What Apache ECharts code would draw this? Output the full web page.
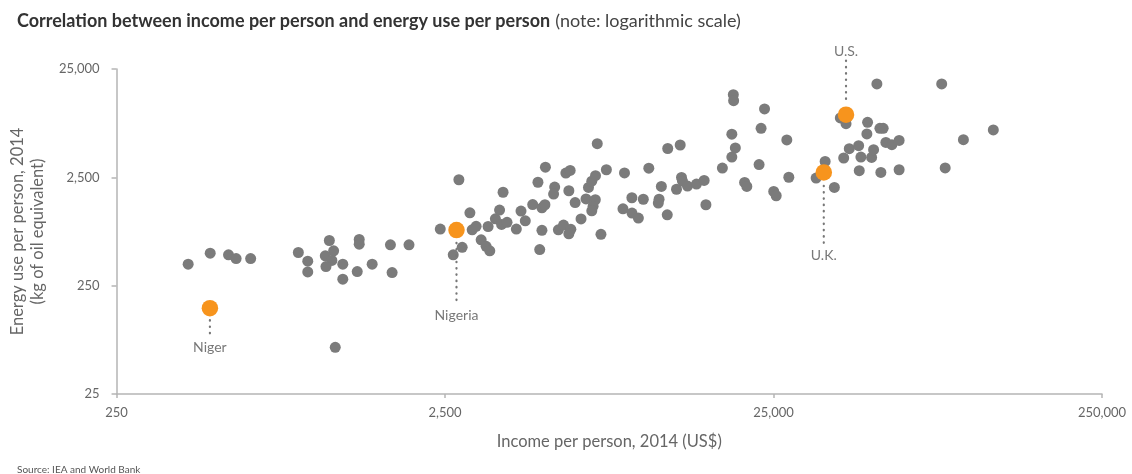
<!DOCTYPE html>
<html><head><meta charset="utf-8">
<script src="https://cdn.jsdelivr.net/npm/echarts@6/dist/echarts.min.js"></script>
<style>html,body{margin:0;padding:0;background:#fff}#c{width:1132px;height:474px}</style>
</head><body><div id="c"></div>
<script>
// Tick values (log scales)
const xTicks = [250, 2500, 25000, 250000];
const yTicks = [25, 250, 2500, 25000];

// All other countries: income per person (US$) and energy use per person (kgoe)
const incomeOther = [413,482,548,578,640,894,955,955,1111,1145,
  1080,1131,1085,1221,1221,1370,1370,1351,1500,1705,
  1942,1725,1158,2418,2648,2819,2755,2976,3024,3109,
  3220,3334,3421,3381,3558,3664,3716,3861,3755,4121,
  4258,4388,4622,4931,5035,4931,4855,4795,5053,5392,
  5351,5533,5737,5831,6010,5955,6039,5955,6223,6486,
  6716,6834,6993,7178,7168,7058,6993,7267,7458,7747,
  8703,8795,9262,9270,9694,10036,10430,11208,11147,11390,
  11870,11910,12998,12665,13117,13209,13680,14567,15372,15565,
  17468,18665,19131,18665,18862,18900,20416,20733,22593,22912,
  23475,25035,25475,27440,27830,33700,35900,38300,39930,41560,
  40890,42520,45400,45600,46130,48340,48100,49720,50420,51600,
  52700,53920,53060,54950,57310,60300,60300,81270,83280,94630,116700];
const energyOther = [395,499,482,445,445,506,421,335,653,524,
  471,427,375,395,287,667,604,337,395,596,
  596,330,67.5,832,482,565,2375,1177,820,883,
  663,577,524,879,1036,1247,918,962,1821,832,
  1220,993,1401,1309,1396,811,539,2252,3099,2034,
  1753,820,906,2740,2895,1880,829,753,1463,1032,
  1579,2017,2301,2587,1552,1352,1228,5110,745,2938,
  1281,2745,1620,1170,1051,1569,3035,1569,1447,2060,
  1128,4613,4972,1941,2495,2301,2078,2168,2340,1396,
  3047,3850,4673,6255,14500,12760,2243,2060,3283,7078,
  10700,1852,1690,5540,2505,2463,3507,2017,8832,7825,
  3770,4595,4900,2877,3850,8043,6283,3818,4498,18210,
  7078,7078,2775,5255,5005,5483,2938,18210,3053,5565,6855];

// Highlighted countries
const hlNames  = ["Niger", "Nigeria", "U.K.", "U.S."];
const hlIncome = [481, 2709, 35560, 41560];
const hlEnergy = [155, 815, 2775, 9475];

// Annotation leader lines (energy values at line ends) and label energy positions
const leadStart = [120, 621, 2090, 29900];
const leadEnd   = [86, 163, 621, 12490];
const labelAt   = [66.5, 134, 471, 36200];

const fmt = v => Math.round(v).toLocaleString('en-US');
const FONT = 'Lato, "Open Sans", sans-serif';
const axisGray = '#b5b5b5';

const series = [
  {
    type: 'scatter', name: 'Other',
    data: incomeOther.map((x, i) => [x, energyOther[i]]),
    symbolSize: 11, itemStyle: { color: '#7b7b7b', opacity: 1 },
    z: 2, silent: true
  },
  {
    type: 'scatter', name: 'Highlight',
    data: hlIncome.map((x, i) => [x, hlEnergy[i]]),
    symbolSize: 16.5, itemStyle: { color: '#F7941D', opacity: 1 },
    z: 4, silent: true
  },
  {
    type: 'scatter', name: 'Labels', clip: false,
    data: hlIncome.map((x, i) => ({ value: [x, labelAt[i]], name: hlNames[i] })),
    symbolSize: 1, itemStyle: { color: 'rgba(0,0,0,0)' },
    label: { show: true, position: 'inside', formatter: p => p.name, color: '#555', fontSize: 14, fontFamily: FONT },
    z: 5, silent: true
  }
];
hlIncome.forEach((x, i) => {
  series.push({
    type: 'line', clip: false, symbol: 'none', silent: true, z: 3,
    data: [[x, leadStart[i]], [x, leadEnd[i]]],
    lineStyle: { color: '#777', width: 2.2, type: [0.5, 5.8], cap: 'round' }
  });
});

const chart = echarts.init(document.getElementById('c'), null, { renderer: 'canvas' });
chart.setOption({
  animation: false,
  backgroundColor: '#fff',
  title: [
    {
      left: 12, top: 7,
      text: '{b|Correlation between income per person and energy use per person} {n|(note: logarithmic scale)}',
      textStyle: { rich: {
        b: { fontFamily: FONT, fontWeight: 'bold', fontSize: 18, color: '#333' },
        n: { fontFamily: FONT, fontWeight: 'normal', fontSize: 18, color: '#444' }
      } }
    },
    {
      left: 12, top: 460,
      text: 'Source: IEA and World Bank',
      textStyle: { fontFamily: FONT, fontWeight: 'normal', fontSize: 10, color: '#555' }
    }
  ],
  grid: { left: 113, right: 30, top: 69, bottom: 80, containLabel: false },
  xAxis: {
    type: 'log', logBase: 10, min: 250, max: 250000,
    name: 'Income per person, 2014 (US$)', nameLocation: 'middle', nameGap: 39,
    nameTextStyle: { fontFamily: FONT, fontSize: 16.5, color: '#666' },
    axisLine: { show: true, lineStyle: { color: axisGray, width: 1.5 } },
    axisTick: { show: true, length: 4, customValues: xTicks, lineStyle: { color: axisGray, width: 1.5 } },
    axisLabel: { customValues: xTicks, formatter: fmt, color: '#666', fontSize: 13, margin: 12, fontFamily: FONT },
    splitLine: { show: false }, minorTick: { show: false }
  },
  yAxis: {
    type: 'log', logBase: 10, min: 25, max: 25000,
    name: 'Energy use per person, 2014\n(kg of oil equivalent)', nameLocation: 'middle', nameGap: 68,
    nameTextStyle: { fontFamily: FONT, fontSize: 16.5, color: '#666', lineHeight: 20 },
    axisLine: { show: true, lineStyle: { color: axisGray, width: 1.5 } },
    axisTick: { show: true, length: 5, customValues: yTicks, lineStyle: { color: axisGray, width: 1.5 } },
    axisLabel: { customValues: yTicks, formatter: fmt, color: '#666', fontSize: 13, margin: 17, fontFamily: FONT },
    splitLine: { show: false }, minorTick: { show: false }
  },
  series
});
</script>
</body></html>
